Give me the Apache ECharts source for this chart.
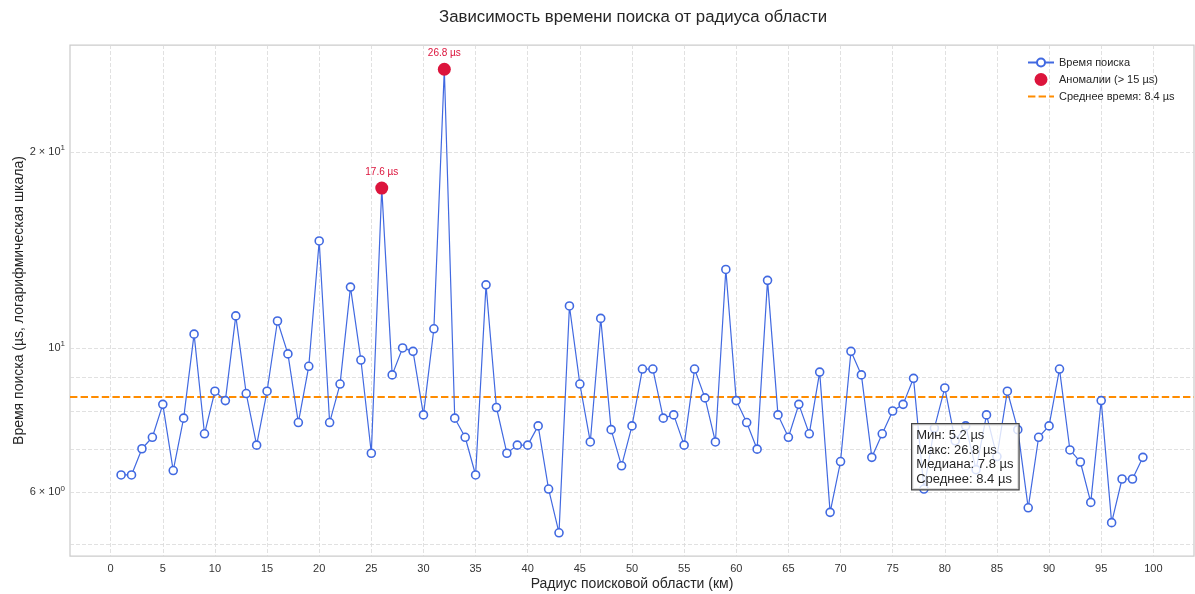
<!DOCTYPE html>
<html>
<head>
<meta charset="utf-8">
<script src="https://cdn.jsdelivr.net/npm/echarts@6/dist/echarts.min.js"></script>
<style>html,body{margin:0;padding:0;background:#fff}#c{width:1195px;height:594px}</style>
</head>
<body>
<div id="c"></div>
<script>
// ---- data ----
const radii = [1,2,3,4,5,6,7,8,9,10,11,12,13,14,15,16,17,18,19,20,21,22,23,24,25,26,27,28,29,30,
  31,32,33,34,35,36,37,38,39,40,41,42,43,44,45,46,47,48,49,50,51,52,53,54,55,56,57,58,59,60,
  61,62,63,64,65,66,67,68,69,70,71,72,73,74,75,76,77,78,79,80,81,82,83,84,85,86,87,88,89,90,
  91,92,93,94,95,96,97,98,99];
const times = [6.38,6.38,7.0,7.29,8.19,6.48,7.8,10.5,7.38,8.58,8.3,11.2,8.51,7.09,8.58,11.0,9.79,7.68,9.37,14.6,
  7.68,8.8,12.4,9.58,6.89,17.6,9.09,10.0,9.88,7.89,10.7,26.8,7.8,7.29,6.38,12.5,8.1,6.89,7.09,7.09,
  7.59,6.07,5.2,11.6,8.8,7.17,11.1,7.49,6.59,7.59,9.28,9.28,7.8,7.89,7.09,9.28,8.38,7.17,13.2,8.3,
  7.68,6.99,12.7,7.89,7.29,8.19,7.38,9.18,5.59,6.69,9.88,9.09,6.79,7.38,8.0,8.19,8.98,6.07,7.53,8.68,
  7.2,7.59,6.5,7.89,6.81,8.58,7.49,5.68,7.29,7.59,9.28,6.97,6.68,5.79,8.3,5.39,6.29,6.29,6.79];
const anomalyThreshold = 15;
const statLabels = ['Мин', 'Макс', 'Медиана', 'Среднее'];
const statValues = [5.2, 26.8, 7.8, 8.4];
const meanValue = 8.4;
const xTicks = [0,5,10,15,20,25,30,35,40,45,50,55,60,65,70,75,80,85,90,95,100];
const yGridValues = [5,6,7,8,9,10,20];
const yLabelValues = [6,10,20];
const yLabelMant = ['6 × 10','10','2 × 10'];
const yLabelExp = ['0','1','1'];

const lineData = radii.map((r, i) => [r, times[i]]);
const anomalyData = lineData.filter(d => d[1] > anomalyThreshold);

const FONT = "'Liberation Sans', Arial, sans-serif";
const TXT = '#262626';
const chart = echarts.init(document.getElementById('c'), null, {renderer: 'canvas'});

const legendText = {fontFamily: FONT, fontSize: 11, color: TXT};

chart.setOption({
  animation: false,
  backgroundColor: '#fff',
  textStyle: {fontFamily: FONT, color: TXT},
  grid: {left: 70, top: 45, right: 1, bottom: 38, show: true, borderColor: '#cccccc', borderWidth: 1.25,
    backgroundColor: '#fff', containLabel: false, outerBoundsMode: 'none'},
  legend: [
    {
      orient: 'vertical', left: 1022, top: 52, itemWidth: 26, itemHeight: 10, align: 'left',
      textStyle: legendText,
      data: ['Время поиска']
    },
    {
      orient: 'vertical', left: 1022, top: 68, itemGap: 5, itemWidth: 26, itemHeight: 13, align: 'left',
      textStyle: legendText,
      data: [
        'Аномалии (> 15 µs)',
        {name: 'Среднее время: 8.4 µs', itemStyle: {color: 'rgba(0,0,0,0)', borderWidth: 0, opacity: 0}}
      ]
    }
  ],
  xAxis: {
    type: 'value', min: -3.9, max: 103.9,
    name: 'Радиус поисковой области (км)', nameLocation: 'middle', nameGap: 21, nameMoveOverlap: false,
    nameTextStyle: {fontFamily: FONT, fontSize: 14, color: TXT},
    axisLine: {show: false},
    axisTick: {show: false, customValues: xTicks},
    axisLabel: {customValues: xTicks, fontSize: 11, color: '#333', margin: 7, fontFamily: FONT},
    splitLine: {show: true, lineStyle: {color: '#d9d9d9', type: [4, 2], width: 0.8}}
  },
  yAxis: {
    type: 'log', logBase: 10, min: 4.79, max: 29.2,
    name: 'Время поиска (µs, логарифмическая шкала)', nameLocation: 'middle', nameGap: 44, nameMoveOverlap: false,
    nameTextStyle: {fontFamily: FONT, fontSize: 14, color: TXT},
    axisLine: {show: false},
    axisTick: {show: false, customValues: yGridValues},
    axisLabel: {
      customValues: yLabelValues, margin: 5, color: '#333',
      formatter: function (v) {
        const i = yLabelValues.findIndex(t => Math.abs(t - v) < 1e-6);
        if (i < 0) return '';
        return '{m|' + yLabelMant[i] + '}{s|' + yLabelExp[i] + '}';
      },
      rich: {
        m: {fontSize: 11, lineHeight: 16, color: '#333', fontFamily: FONT},
        s: {fontSize: 8, lineHeight: 9, verticalAlign: 'top', color: '#333', fontFamily: FONT}
      }
    },
    splitLine: {show: true, lineStyle: {color: '#d9d9d9', type: [4, 2], width: 0.8}}
  },
  series: [
    {
      name: 'Время поиска', type: 'line', data: lineData, z: 3,
      symbol: 'circle', symbolSize: 8, showAllSymbol: true,
      lineStyle: {color: '#4169E1', width: 1.2},
      itemStyle: {color: '#ffffff', borderColor: '#4169E1', borderWidth: 1.6}
    },
    {
      name: 'Аномалии (> 15 µs)', type: 'scatter', data: anomalyData, z: 4,
      symbol: 'circle', symbolSize: 13,
      itemStyle: {color: '#DC143C', opacity: 1},
      label: {show: true, position: 'top', distance: 4, color: '#DC143C', fontSize: 10, fontFamily: FONT,
        formatter: p => p.value[1].toFixed(1) + ' µs'}
    },
    {
      name: 'Среднее время: 8.4 µs', type: 'line', data: [], symbol: 'none',
      itemStyle: {color: '#FF8C00'},
      lineStyle: {color: '#FF8C00', width: 2, type: [7.4, 3.2]},
      markLine: {
        silent: true, symbol: ['none', 'none'], z: 2,
        label: {show: false},
        lineStyle: {color: '#FF8C00', width: 2, type: [7.4, 3.2]},
        data: [{yAxis: meanValue}]
      }
    }
  ],
  graphic: [
    {
      type: 'text', x: 633, y: 17, z: 100,
      style: {
        text: 'Зависимость времени поиска от радиуса области',
        font: '16.8px ' + FONT, fill: TXT, textAlign: 'center', textVerticalAlign: 'middle'
      }
    },
    {
      type: 'text', left: 911, top: 423, z: 100,
      style: {
        text: statLabels.map((l, i) => l + ': ' + statValues[i].toFixed(1) + ' µs').join('\n'),
        font: '13px ' + FONT, fill: TXT, lineHeight: 14.5,
        backgroundColor: 'rgba(255,255,255,0.8)', borderColor: '#444', borderWidth: 1.2,
        padding: [4, 5, 3, 4]
      }
    }
  ]
});
</script>
</body>
</html>
